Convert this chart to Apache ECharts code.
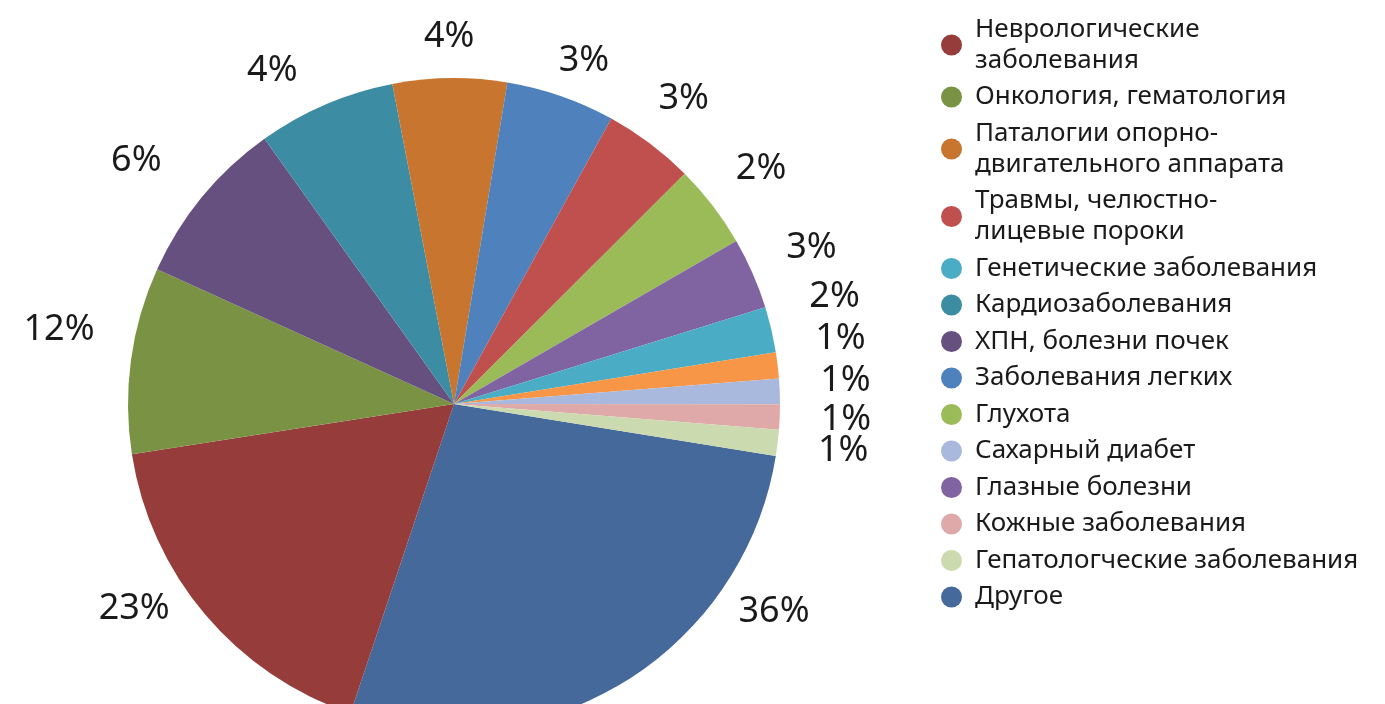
<!DOCTYPE html>
<html>
<head>
<meta charset="utf-8">
<script src="https://cdn.jsdelivr.net/npm/echarts@6/dist/echarts.min.js"></script>
<style>
  html, body { margin: 0; padding: 0; background: #fff; }
  #chart { width: 1385px; height: 704px; }
</style>
</head>
<body>
<div id="chart"></div>
<script>
// Slice names in the order they are drawn (clockwise, starting with "Другое")
const sliceNames = [
    'Другое',
    'Неврологические\nзаболевания',
    'Онкология, гематология',
    'ХПН, болезни почек',
    'Кардиозаболевания',
    'Паталогии опорно-\nдвигательного аппарата',
    'Заболевания легких',
    'Травмы, челюстно-\nлицевые пороки',
    'Глухота',
    'Глазные болезни',
    'Генетические заболевания',
    'Прочие',
    'Сахарный диабет',
    'Кожные заболевания',
    'Гепатологческие заболевания'
];

// Share of the circle each slice takes in the picture (percent)
const sliceShares = [27.6, 17.4, 9.25, 8.35, 6.85, 5.65, 5.4, 4.5, 4.15, 3.55, 2.25, 1.3, 1.25, 1.25, 1.3];

// Percent labels printed next to the slices
const sliceLabels = ['36%', '23%', '12%', '6%', '4%', '4%', '3%', '3%', '2%', '3%', '2%', '1%', '1%', '1%', '1%'];

// Legend order as shown on the right
const legendNames = [
    'Неврологические\nзаболевания',
    'Онкология, гематология',
    'Паталогии опорно-\nдвигательного аппарата',
    'Травмы, челюстно-\nлицевые пороки',
    'Генетические заболевания',
    'Кардиозаболевания',
    'ХПН, болезни почек',
    'Заболевания легких',
    'Глухота',
    'Сахарный диабет',
    'Глазные болезни',
    'Кожные заболевания',
    'Гепатологческие заболевания',
    'Другое'
];

const sliceColors = [
    '#46699c', '#963d3b', '#7a9243', '#66507f', '#3c8da3', '#c8752f', '#4f81bd',
    '#c0504d', '#9bbb59', '#8064a2', '#4bacc6', '#f79646', '#a9b9dd', '#dea9a8', '#ccdab0'
];

// pie geometry (px)
const CX = 454, CY = 404, R = 326, GAP = 41;
// labels that sit away from their slice middle in the original: [degrees, px]
const labelNudge = {
    0: [-25.8, -15], 1: [7.5, -17], 2: [2.9, 0], 3: [-2, 13], 4: [-5.4, 0],
    6: [1.6, -9], 10: [-2.5, 4], 11: [-2.7, 0], 12: [-1.2, 0]
};

const chart = echarts.init(document.getElementById('chart'));

chart.setOption({
    animation: false,
    backgroundColor: '#fff',
    color: sliceColors,
    legend: {
        orient: 'vertical',
        left: 936,
        top: 9,
        itemWidth: 21,
        itemHeight: 21,
        itemGap: 5.5,
        icon: 'circle',
        selectedMode: false,
        data: legendNames,
        textStyle: {
            fontFamily: 'Noto Sans',
            fontSize: 26,
            lineHeight: 31,
            color: '#1a1a1a',
            padding: [0, 0, 0, 8]
        }
    },
    series: [{
        type: 'pie',
        center: [CX, CY],
        radius: [0, R],
        startAngle: -9.2,
        clockwise: true,
        silent: true,
        avoidLabelOverlap: false,
        label: {
            show: true,
            position: 'inside',
            fontFamily: 'Noto Sans',
            fontSize: 36,
            color: '#1a1a1a',
            formatter: p => sliceLabels[p.dataIndex]
        },
        labelLine: { show: false },
        labelLayout: function (p) {
            const r = p.labelRect;
            const lx = r.x + r.width / 2, ly = r.y + r.height / 2;
            const nudge = labelNudge[p.dataIndex] || [0, 0];
            const a = Math.atan2(ly - CY, lx - CX) + nudge[0] * Math.PI / 180;
            const d = R + GAP + nudge[1] + (r.width / 2) * Math.abs(Math.cos(a));
            return {
                x: CX + d * Math.cos(a),
                y: CY + d * Math.sin(a),
                align: 'center',
                verticalAlign: 'middle'
            };
        },
        data: sliceNames.map((n, i) => ({ name: n, value: sliceShares[i] }))
    }]
});
</script>
</body>
</html>
